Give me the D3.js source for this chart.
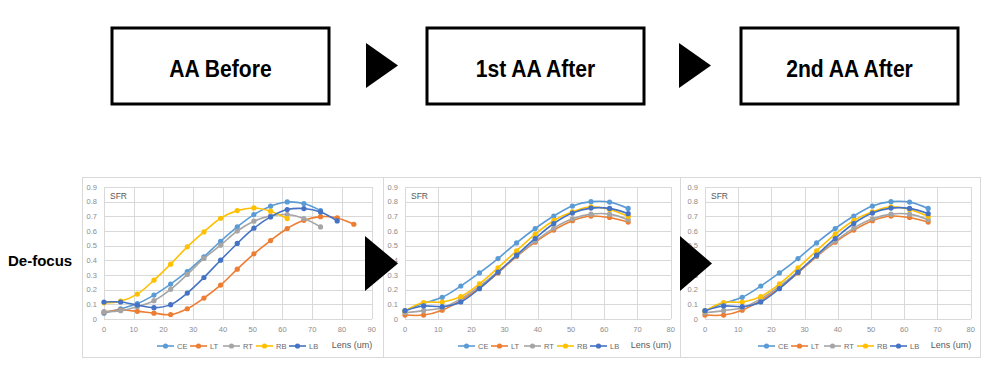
<!DOCTYPE html>
<html>
<head>
<meta charset="utf-8">
<title>AA De-focus SFR</title>
<script src="https://cdn.jsdelivr.net/npm/d3@7"></script>
<style>
	body { margin: 0; background: #fff; }
	text { font-family: "Liberation Sans", Arial, sans-serif; }
	.grid line { stroke: #d9d9d9; stroke-width: 1px; shape-rendering: crispEdges; }
	.tick-label { font-size: 7.5px; fill: #8c8c8c; }
	.legend text { font-size: 7.5px; fill: #6b6b6b; }
</style>
</head>
<body>
<script>
// step titles
var stepTitles = ["AA Before", "1st AA After", "2nd AA After"];
var rowLabel = "De-focus";

var seriesNames = ["CE", "LT", "RT", "RB", "LB"];
var seriesColors = ["#5B9BD5", "#ED7D31", "#A5A5A5", "#FFC000", "#4472C4"];

var yTicks = [0, 0.1, 0.2, 0.3, 0.4, 0.5, 0.6, 0.7, 0.8, 0.9];

// lens positions (um)
var lensBefore = [0, 5.6, 11.2, 16.8, 22.4, 28, 33.6, 39.2, 44.8, 50.4, 56, 61.6, 67.2, 72.8, 78.4, 84];
var lensAfter = [0, 5.6, 11.2, 16.8, 22.4, 28, 33.6, 39.2, 44.8, 50.4, 56, 61.6, 67.2];

// SFR values, one row per series (CE, LT, RT, RB, LB)
var sfrBefore = [
	[0.04, 0.07, 0.105, 0.163, 0.238, 0.324, 0.424, 0.53, 0.628, 0.712, 0.769, 0.798, 0.787, 0.739],
	[0.047, 0.061, 0.052, 0.04, 0.03, 0.07, 0.143, 0.231, 0.34, 0.444, 0.535, 0.617, 0.673, 0.698, 0.689, 0.646],
	[0.05, 0.057, 0.084, 0.125, 0.202, 0.304, 0.413, 0.503, 0.6, 0.667, 0.703, 0.712, 0.685, 0.628],
	[0.11, 0.122, 0.17, 0.265, 0.374, 0.492, 0.594, 0.687, 0.739, 0.757, 0.735, 0.685],
	[0.116, 0.116, 0.095, 0.077, 0.098, 0.177, 0.283, 0.401, 0.515, 0.619, 0.696, 0.746, 0.753, 0.73, 0.669]
];
var sfrFirstAfter = [
	[0.055, 0.107, 0.148, 0.225, 0.314, 0.412, 0.519, 0.617, 0.702, 0.77, 0.8, 0.797, 0.754],
	[0.027, 0.027, 0.06, 0.125, 0.21, 0.314, 0.426, 0.524, 0.606, 0.67, 0.702, 0.692, 0.661],
	[0.043, 0.057, 0.077, 0.137, 0.223, 0.323, 0.43, 0.531, 0.62, 0.683, 0.715, 0.715, 0.677],
	[0.055, 0.112, 0.116, 0.153, 0.239, 0.349, 0.465, 0.579, 0.672, 0.731, 0.765, 0.747, 0.7],
	[0.057, 0.089, 0.084, 0.116, 0.207, 0.319, 0.435, 0.549, 0.651, 0.722, 0.756, 0.754, 0.718]
];
var sfrSecondAfter = [
	[0.055, 0.107, 0.148, 0.225, 0.314, 0.412, 0.519, 0.617, 0.702, 0.77, 0.8, 0.797, 0.754],
	[0.027, 0.027, 0.06, 0.125, 0.21, 0.314, 0.426, 0.524, 0.606, 0.67, 0.702, 0.692, 0.661],
	[0.043, 0.057, 0.077, 0.137, 0.223, 0.323, 0.43, 0.531, 0.62, 0.683, 0.715, 0.715, 0.677],
	[0.055, 0.112, 0.116, 0.153, 0.239, 0.349, 0.465, 0.579, 0.672, 0.731, 0.765, 0.747, 0.7],
	[0.057, 0.089, 0.084, 0.116, 0.207, 0.319, 0.435, 0.549, 0.651, 0.722, 0.756, 0.754, 0.718]
];

var svg = d3.select("body").append("svg")
	.attr("width", 992)
	.attr("height", 386);

// header boxes
var boxX = [112, 427, 741];
stepTitles.forEach(function(t, i) {
	svg.append("rect")
		.attr("x", boxX[i]).attr("y", 28)
		.attr("width", 217).attr("height", 76)
		.style("fill", "#fff")
		.style("stroke", "#000")
		.style("stroke-width", "3px");
	// slightly condensed, like the original slide font
	svg.append("text")
		.attr("transform", "translate(" + (boxX[i] + 108.5) + ",77) scale(0.96,1.1)")
		.attr("text-anchor", "middle")
		.style("font-size", "22px")
		.style("font-weight", "bold")
		.text(t);
});

function triangle(x, y, w, h) {
	svg.append("path")
		.attr("d", "M" + x + "," + y + "L" + (x + w) + "," + (y + h / 2) + "L" + x + "," + (y + h) + "Z")
		.style("fill", "#000");
}
triangle(366, 43, 32, 45);
triangle(679, 43, 32, 45);

svg.append("text")
	.attr("x", 8).attr("y", 266)
	.style("font-size", "15px")
	.style("font-weight", "bold")
	.text(rowLabel);

function drawChart(cfg) {
	var g = svg.append("g");
	g.append("rect")
		.attr("x", cfg.px + 0.5).attr("y", 177.5)
		.attr("width", cfg.pw).attr("height", 180)
		.style("fill", "#fff")
		.style("stroke", "#d9d9d9");

	var x = d3.scaleLinear().domain([0, cfg.xMax]).range([cfg.left, cfg.right]);
	var y = d3.scaleLinear().domain([0, 0.9]).range([319, 187]);
	var xTicks = d3.range(0, cfg.xMax + 1, 10);

	var grid = g.append("g").attr("class", "grid");
	grid.selectAll("line.h").data(yTicks).enter().append("line")
		.attr("x1", cfg.left).attr("x2", cfg.right)
		.attr("y1", function(d) { return Math.round(y(d)) + 0.5; })
		.attr("y2", function(d) { return Math.round(y(d)) + 0.5; });
	grid.selectAll("line.v").data(xTicks).enter().append("line")
		.attr("x1", function(d) { return Math.round(x(d)) + 0.5; })
		.attr("x2", function(d) { return Math.round(x(d)) + 0.5; })
		.attr("y1", y(0.9)).attr("y2", y(0));

	g.selectAll("text.yl").data(yTicks).enter().append("text")
		.attr("class", "tick-label")
		.attr("x", cfg.left - 7).attr("y", function(d) { return y(d) + 2.5; })
		.attr("text-anchor", "end")
		.text(function(d) { return d === 0 ? "0" : d3.format(".1f")(d); });
	g.selectAll("text.xl").data(xTicks).enter().append("text")
		.attr("class", "tick-label")
		.attr("x", function(d) { return x(d); }).attr("y", 332)
		.attr("text-anchor", "middle")
		.text(function(d) { return d; });

	g.append("text")
		.attr("x", cfg.left + 6).attr("y", 199)
		.style("font-size", "8.5px").style("fill", "#595959")
		.text("SFR");

	var line = d3.line()
		.x(function(d) { return x(d[0]); })
		.y(function(d) { return y(d[1]); })
		.curve(d3.curveCatmullRom.alpha(0.5));

	cfg.sfr.forEach(function(vals, s) {
		var pts = vals.map(function(v, i) { return [cfg.lens[i], v]; });
		g.append("path")
			.attr("d", line(pts))
			.style("fill", "none")
			.style("stroke", seriesColors[s])
			.style("stroke-width", "1.6px");
		g.selectAll("circle.s" + s).data(pts).enter().append("circle")
			.attr("cx", function(d) { return x(d[0]); })
			.attr("cy", function(d) { return y(d[1]); })
			.attr("r", 2.6)
			.style("fill", seriesColors[s]);
	});

	var legend = g.append("g").attr("class", "legend");
	seriesNames.forEach(function(n, s) {
		var lx = cfg.legendX + s * 33;
		legend.append("line")
			.attr("x1", lx).attr("x2", lx + 17)
			.attr("y1", 346).attr("y2", 346)
			.style("stroke", seriesColors[s]).style("stroke-width", "1.6px");
		legend.append("circle")
			.attr("cx", lx + 8.5).attr("cy", 346).attr("r", 2.6)
			.style("fill", seriesColors[s]);
		legend.append("text")
			.attr("x", lx + 20).attr("y", 348.5)
			.text(n);
	});

	g.append("text")
		.attr("x", cfg.right - 40).attr("y", 348)
		.style("font-size", "9px").style("fill", "#595959")
		.text("Lens (um)");
}

drawChart({px: 82, pw: 301, left: 104, right: 371.7, xMax: 90, lens: lensBefore, sfr: sfrBefore, legendX: 157});
drawChart({px: 383, pw: 297, left: 405, right: 670.7, xMax: 80, lens: lensAfter, sfr: sfrFirstAfter, legendX: 458});
drawChart({px: 680, pw: 300, left: 705, right: 970.7, xMax: 80, lens: lensAfter, sfr: sfrSecondAfter, legendX: 758});

triangle(365, 236, 33, 55);
triangle(680, 236, 32, 55);
</script>
</body>
</html>
